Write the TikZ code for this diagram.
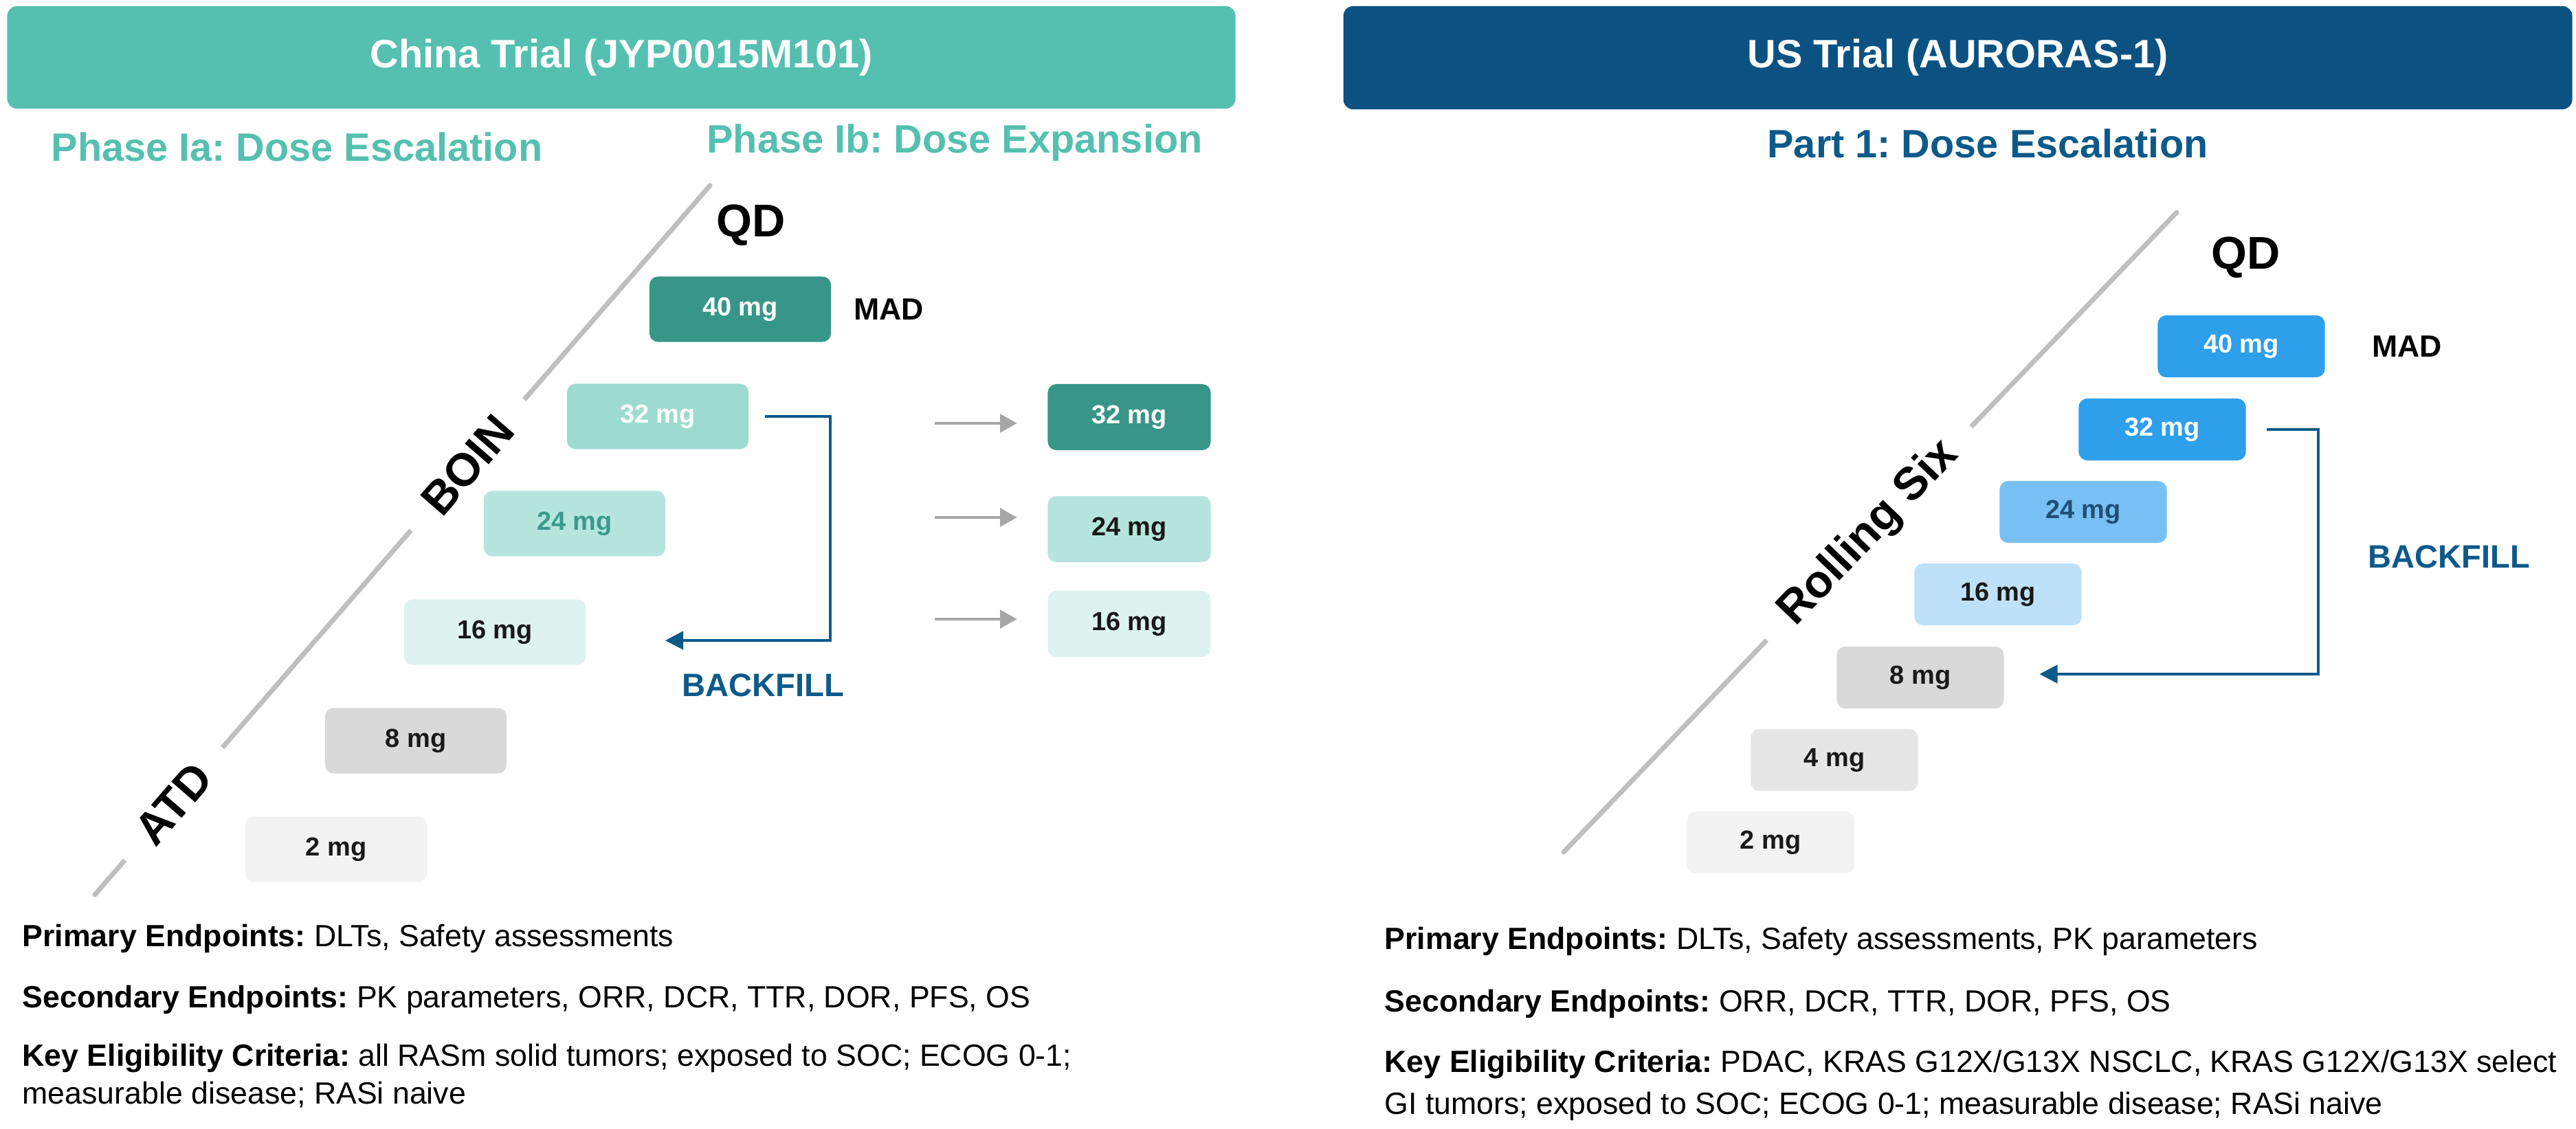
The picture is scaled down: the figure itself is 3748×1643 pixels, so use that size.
\documentclass[tikz,border=0pt]{standalone}
\usepackage{fontspec}
\setmainfont{Liberation Sans}
\usepackage{xcolor}
\usepackage{tikz}
\usetikzlibrary{arrows.meta,positioning,calc}
\frenchspacing
\definecolor{cnteal}{HTML}{55C0B0}
\definecolor{usblue}{HTML}{0B5282}
\definecolor{bfblue}{HTML}{0D5A8A}
\definecolor{tealdark}{HTML}{379688}
\definecolor{teallight}{HTML}{9DDAD0}
\definecolor{tealpale}{HTML}{B6E5DE}
\definecolor{tealmist}{HTML}{DEF3F0}
\definecolor{tealtext}{HTML}{3A9A8C}
\definecolor{usbright}{HTML}{2E9FEB}
\definecolor{uslight}{HTML}{78C0F3}
\definecolor{uspale}{HTML}{BEE1F9}
\definecolor{usnavy}{HTML}{1F4E79}
\definecolor{greymid}{HTML}{D9D9D9}
\definecolor{greysoft}{HTML}{E6E6E6}
\definecolor{greypale}{HTML}{F2F2F2}
\definecolor{lineGray}{HTML}{BFBFBF}
\definecolor{arrowGray}{HTML}{A6A6A6}
\tikzset{
  >={Triangle[length=7.5pt, width=7.5pt]},
  header/.style={rounded corners=4pt, minimum height=1.49cm, minimum width=17.86cm, text=white, font=\bfseries\fontsize{16.4}{20}\selectfont},
  phase/.style={inner sep=0pt, font=\bfseries\fontsize{16.4}{20}\selectfont},
  dose/.style={rounded corners=3.5pt, inner sep=0pt, minimum width=2.64cm, minimum height=0.95cm, text=black!90, font=\bfseries\fontsize{10.8}{13}\selectfont},
  expdose/.style={dose, minimum width=2.37cm, minimum height=0.96cm},
  usdose/.style={dose, minimum width=2.43cm, minimum height=0.90cm},
  qd/.style={inner sep=0pt, font=\bfseries\fontsize{19}{23}\selectfont},
  mad/.style={inner sep=0pt, font=\bfseries\fontsize{12.7}{15}\selectfont},
  bflabel/.style={inner sep=0pt, text=bfblue, font=\bfseries\fontsize{13.4}{16}\selectfont},
  axisline/.style={line width=2pt, draw=lineGray, line cap=round},
  design/.style={fill=white, sloped, inner xsep=12pt, inner ysep=3pt, font=\bfseries\fontsize{19}{23}\selectfont},
  backfill/.style={->, draw=bfblue, line width=1.2pt},
  expand/.style={-{Triangle[length=7pt, width=7.5pt]}, draw=arrowGray, line width=1.3pt, shorten >=0.44cm},
  info/.style={anchor=base west, inner sep=0pt, font=\fontsize{12.7}{15.6}\selectfont},
}

\begin{document}
\begin{tikzpicture}[x=0.01cm, y=-0.01cm]
    \useasboundingbox (0,0) rectangle (3748,1643);

    % headers
    \node[header, fill=cnteal] (Lhead) at (904,83.5) {China Trial (JYP0015M101)};
    \node[header, fill=usblue, minimum width=17.87cm, minimum height=1.50cm] (Rhead) at (2848.5,84) {US Trial (AURORAS-1)};
    \node[phase, text=cnteal] (Lphasea) at (432,214) {Phase Ia: Dose Escalation};
    \node[phase, text=cnteal] (Lphaseb) at (1389,208) {Phase Ib: Dose Expansion};
    \node[phase, text=bfblue] (Rpart) at (2892,209) {Part 1: Dose Escalation};

    % China trial: escalation
    \node[dose, fill=tealdark, text=white]   (Lforty)      at (1077,450) {40 mg};
    \node[dose, fill=teallight, text=white]  (Lthirtytwo)  at (957,606)  {32 mg};
    \node[dose, fill=tealpale, text=tealtext] (Ltwentyfour) at (836,762) {24 mg};
    \node[dose, fill=tealmist]               (Lsixteen)    at (720,920)  {16 mg};
    \node[dose, fill=greymid]                (Leight)      at (605,1078) {8 mg};
    \node[dose, fill=greypale]               (Ltwo)        at (489,1236) {2 mg};
    \node[qd] (Lqd) at (1093,328) {QD};
    \node[mad, right=0.32cm of Lforty] (Lmad) {MAD};

    % China trial: expansion
    \node[expdose, fill=tealdark, text=white] (Ethirtytwo)  at (1643,607) {32 mg};
    \node[expdose, fill=tealpale]             (Etwentyfour) at (1643,770) {24 mg};
    \node[expdose, fill=tealmist]             (Esixteen)    at (1643,908) {16 mg};
    \coordinate (Eina) at (1360,616);
    \coordinate (Einb) at (1360,753);
    \coordinate (Einc) at (1360,901);
    \draw[expand] (Eina) -- (Eina -| Ethirtytwo.west);
    \draw[expand] (Einb) -- (Einb -| Etwentyfour.west);
    \draw[expand] (Einc) -- (Einc -| Esixteen.west);

    % backfill (China)
    \coordinate (Lturn) at (1208,932);
    \draw[backfill] ([xshift=0.23cm]Lthirtytwo.east) -| (Lturn) -- ([xshift=1.15cm]Lsixteen.east |- Lturn);
    \node[bflabel] (Lbf) at (1110,997) {BACKFILL};

    % design axis (China)
    \coordinate (Ltop) at (1033,270);
    \coordinate (Lbot) at (138,1302);
    \draw[axisline] (Ltop) -- node[design, pos=0.394] (Lboin) {BOIN}
                              node[design, pos=0.872] (Latd) {ATD} (Lbot);

    % US trial
    \node[usdose, fill=usbright, text=white] (Rforty)      at (3261,504)  {40 mg};
    \node[usdose, fill=usbright, text=white] (Rthirtytwo)  at (3146,625)  {32 mg};
    \node[usdose, fill=uslight, text=usnavy] (Rtwentyfour) at (3031,745)  {24 mg};
    \node[usdose, fill=uspale]               (Rsixteen)    at (2907,865)  {16 mg};
    \node[usdose, fill=greymid]              (Reight)      at (2794,986)  {8 mg};
    \node[usdose, fill=greysoft]             (Rfour)       at (2669,1106) {4 mg};
    \node[usdose, fill=greypale]             (Rtwo)        at (2576,1226) {2 mg};
    \node[qd] (Rqd) at (3268,375) {QD};
    \node[mad, right=0.67cm of Rforty] (Rmad) {MAD};

    % backfill (US)
    \coordinate (Rturn) at (3373,981);
    \draw[backfill] ([xshift=0.30cm]Rthirtytwo.east) -| (Rturn) -- ([xshift=0.51cm]Reight.east |- Rturn);
    \node[bflabel] (Rbf) at (3563,810) {BACKFILL};

    % design axis (US)
    \coordinate (Rtop) at (3167,309);
    \coordinate (Rbot) at (2275,1240);
    \draw[axisline] (Rtop) -- node[design, pos=0.502] (Rroll) {Rolling Six} (Rbot);

    % endpoints and eligibility
    \node[info] (Lprim) at (32,1377) {\textbf{Primary Endpoints:} DLTs, Safety assessments};
    \node[info] (Lsec)  at (32,1466) {\textbf{Secondary Endpoints:} PK parameters, ORR, DCR, TTR, DOR, PFS, OS};
    \node[info] (Lkey)  at (32,1551) {\textbf{Key Eligibility Criteria:} all RASm solid tumors; exposed to SOC; ECOG 0-1;};
    \node[info] (Lkeyb) at (32,1606) {measurable disease; RASi naive};
    \node[info] (Rprim) at (2014,1381) {\textbf{Primary Endpoints:} DLTs, Safety assessments, PK parameters};
    \node[info] (Rsec)  at (2014,1472) {\textbf{Secondary Endpoints:} ORR, DCR, TTR, DOR, PFS, OS};
    \node[info] (Rkey)  at (2014,1560) {\textbf{Key Eligibility Criteria:} PDAC, KRAS G12X/G13X NSCLC, KRAS G12X/G13X select};
    \node[info] (Rkeyb) at (2014,1621) {GI tumors; exposed to SOC; ECOG 0-1; measurable disease; RASi naive};
\end{tikzpicture}
\end{document}
